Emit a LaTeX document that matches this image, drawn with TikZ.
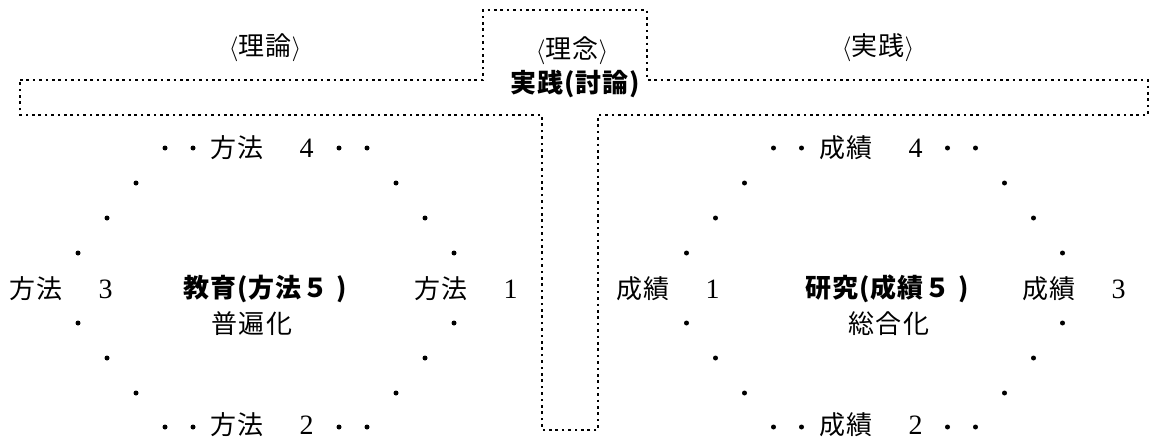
\documentclass[tikz,border=0pt]{standalone}
\usepackage{fontspec}
\setmainfont{Liberation Serif}
\newfontfamily\jpfont[LetterSpace=4]{Noto Sans CJK JP}

\begin{document}
\begin{tikzpicture}[x=1pt,y=-1pt,
    frame/.style={line width=2.8pt, dash pattern=on 2.6pt off 3.8pt},
    lab/.style={font=\jpfont\fontsize{26pt}{26pt}\selectfont, inner sep=0pt},
    head/.style={lab, font=\jpfont\bfseries\fontsize{26pt}{26pt}\selectfont}]
    \useasboundingbox (0,0) rectangle (1150,441);
    % T-shaped frame
    \draw[frame]
      (20,80) -| (483,10) -| (647,80) -| (1148,115) -| (598,430) -| (542,115) -| (20,80) -- cycle;
    % headings
    \node[lab] (riron)   at (265,48) {$\langle$理論$\rangle$};
    \node[lab] (rinen)   at (572,51) {$\langle$理念$\rangle$};
    \node[head] (jissen) at (575,84) {実践(討論)};
    \node[lab] (jisshu)  at (878,48) {$\langle$実践$\rangle$};
    % left ring
    \node[lab] (hoho4) at (262,148) {方法\hspace{36pt}{\rmfamily\fontsize{28pt}{28pt}\selectfont 4}};
    \node[lab] (hoho3) at (61,289)  {方法\hspace{36pt}{\rmfamily\fontsize{28pt}{28pt}\selectfont 3}};
    \node[lab] (hoho1) at (466,289) {方法\hspace{36pt}{\rmfamily\fontsize{28pt}{28pt}\selectfont 1}};
    \node[lab] (hoho2) at (262,425) {方法\hspace{36pt}{\rmfamily\fontsize{28pt}{28pt}\selectfont 2}};
    \node[head] (kyoiku) at (265,289) {教育(方法５\hspace{8pt})};
    \node[lab] (fuhen)   at (252,324) {普遍化};
    % right ring
    \node[lab] (seiseki4) at (871,148) {成績\hspace{36pt}{\rmfamily\fontsize{28pt}{28pt}\selectfont 4}};
    \node[lab] (seiseki1) at (668,289) {成績\hspace{36pt}{\rmfamily\fontsize{28pt}{28pt}\selectfont 1}};
    \node[lab] (seiseki3) at (1074,289) {成績\hspace{36pt}{\rmfamily\fontsize{28pt}{28pt}\selectfont 3}};
    \node[lab] (seiseki2) at (871,425) {成績\hspace{36pt}{\rmfamily\fontsize{28pt}{28pt}\selectfont 2}};
    \node[head] (kenkyu) at (887,289) {研究(成績５\hspace{8pt})};
    \node[lab] (sogo)    at (889,324) {総合化};
    % dotted rings
    \foreach \cx in {266,874.5}
      \foreach \dx/\y in {73/148,101/148,130/183,159/218,188/253,188/323,159/358,130/393,73/427,101/427}
        \fill (\cx-\dx,\y) circle (2.5pt) (\cx+\dx,\y) circle (2.5pt);
  \end{tikzpicture}
\end{document}
